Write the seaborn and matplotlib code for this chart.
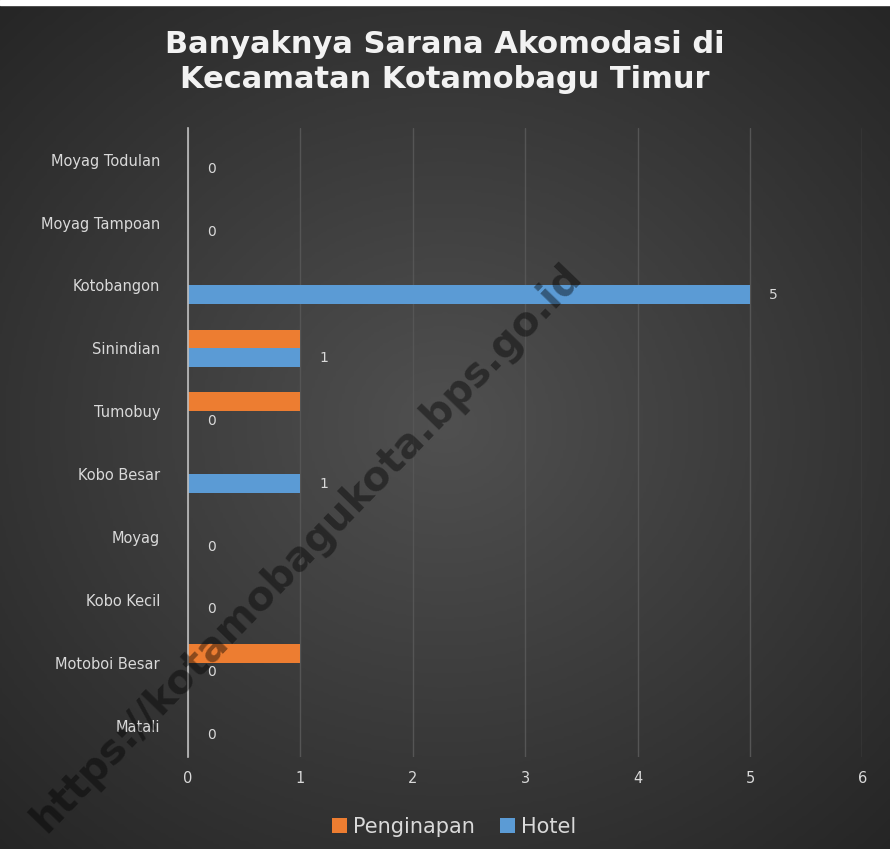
import numpy as np
import pandas as pd
import seaborn as sns
import matplotlib.pyplot as plt

# data
desa = ["Moyag Todulan", "Moyag Tampoan", "Kotobangon", "Sinindian", "Tumobuy",
        "Kobo Besar", "Moyag", "Kobo Kecil", "Motoboi Besar", "Matali"]
penginapan = [0, 0, 0, 1, 1, 0, 0, 0, 1, 0]
hotel = [0, 0, 5, 1, 0, 1, 0, 0, 0, 0]
series = ["Penginapan", "Hotel"]
colors = ["#ED7D31", "#5B9BD5"]

df = pd.DataFrame({
    "Desa": desa * 2,
    "Jenis": ["Penginapan"] * len(desa) + ["Hotel"] * len(desa),
    "Jumlah": penginapan + hotel,
})

sns.set_style("dark")
plt.rcParams["font.family"] = ["DejaVu Sans"]

fig = plt.figure(figsize=(8.9, 8.49), dpi=100, facecolor="#2b2b2b")

# radial gradient background
bg = fig.add_axes([0, 0, 1, 1], zorder=-10)
yy, xx = np.mgrid[-1:1:300j, -1:1:300j]
r = np.sqrt(xx ** 2 + (yy * 1.05) ** 2)
bg.imshow(-r, cmap=sns.dark_palette("#505050", as_cmap=True), vmin=-1.45, vmax=0,
          extent=[0, 1, 0, 1], aspect="auto")
bg.axis("off")

ax = fig.add_axes([0.211, 0.108, 0.758, 0.741])
ax.set_facecolor("none")
sns.barplot(data=df, y="Desa", x="Jumlah", hue="Jenis", hue_order=series,
            order=desa, palette=colors, orient="h", width=0.6, saturation=1,
            linewidth=0, ax=ax)

# data labels for Hotel only
for cont, name in zip(ax.containers, series):
    if name == "Hotel":
        ax.bar_label(cont, labels=[str(v) for v in hotel], padding=14,
                     color="#d9d9d9", fontsize=10)

ax.set_xlim(0, 6)
ax.set_xticks(range(7))
ax.grid(axis="x", color="#555555", linewidth=1)
ax.grid(axis="y", visible=False)
for s in ["top", "right", "bottom"]:
    ax.spines[s].set_visible(False)
ax.spines["left"].set_color("#bfbfbf")
ax.spines["left"].set_linewidth(1.2)
ax.tick_params(colors="#d9d9d9", labelsize=10.5, length=0)
ax.tick_params(axis="x", pad=10)
ax.tick_params(axis="y", pad=20)
ax.set_xlabel("")
ax.set_ylabel("")

ax.legend(loc="upper center", bbox_to_anchor=(0.395, -0.065), ncol=2,
          frameon=False, fontsize=15, labelcolor="#d9d9d9",
          handlelength=0.7, handleheight=0.7, handletextpad=0.3,
          columnspacing=1.2)

fig.text(0.5, 0.927, "Banyaknya Sarana Akomodasi di\nKecamatan Kotamobagu Timur",
         ha="center", va="center", color="#f2f2f2", fontsize=22,
         fontweight="bold", linespacing=1.3)

# watermark
fig.text(0.345, 0.355, "https://kotamobagukota.bps.go.id", rotation=46,
         ha="center", va="center", color="black", alpha=0.42, fontsize=29,
         fontweight="bold")

# thin white frame along the top edge
fig.patches.append(plt.Rectangle((0, 0.994), 1, 0.006, transform=fig.transFigure,
                                 color="white", zorder=5))

fig.savefig("out.png", dpi=100, facecolor=fig.get_facecolor())
